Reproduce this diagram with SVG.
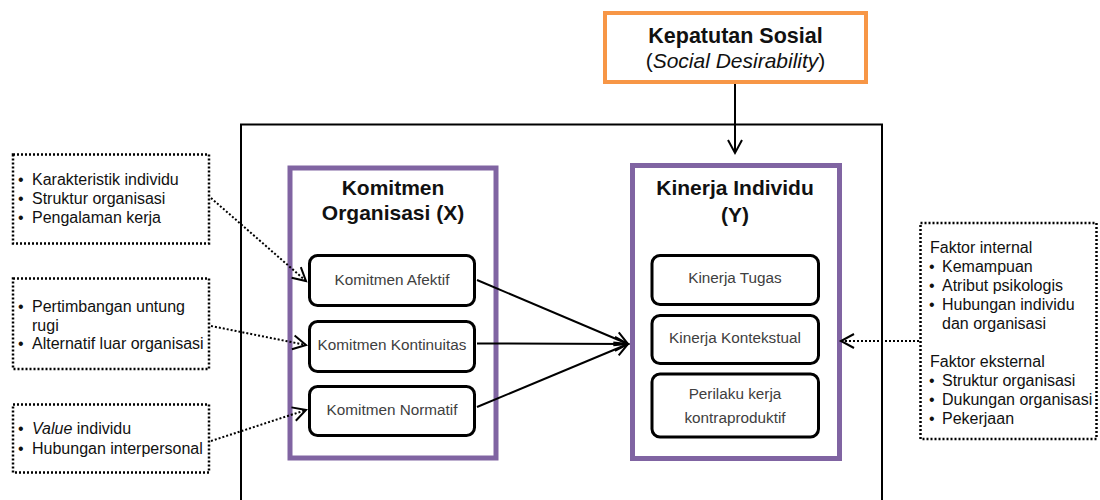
<svg xmlns="http://www.w3.org/2000/svg" width="1100" height="500" viewBox="0 0 1100 500">
<style>
.frame{fill:none;stroke:#000;stroke-width:2}
.purple{fill:#fff;stroke:#8064A2;stroke-width:5}
.orange{fill:#fff;stroke:#F79646;stroke-width:4}
.sub{fill:#fff;stroke:#000;stroke-width:3}
.dotbox{fill:#fff;stroke:#000;stroke-width:2.5;stroke-dasharray:2 2}
.title{font-family:"Liberation Sans",Arial,sans-serif;font-weight:bold;font-size:21px;fill:#111;text-anchor:middle}
.subt{font-family:"Liberation Sans",Arial,sans-serif;font-size:15.3px;fill:#404040;text-anchor:middle}
.list{font-family:"Liberation Sans",Arial,sans-serif;font-size:16px;fill:#111}
.solid{fill:none;stroke:#000;stroke-width:2}
.dotted{fill:none;stroke:#000;stroke-width:2;stroke-dasharray:2 2}
</style>
<defs>
<marker id="arr" markerUnits="userSpaceOnUse" markerWidth="20" markerHeight="20" refX="0" refY="0" viewBox="-14 -10 16 20" orient="auto">
<path d="M-13,-7 L0,0 L-13,7" fill="none" stroke="#000" stroke-width="2"/>
</marker>
</defs>
<rect class="frame" x="241" y="124.5" width="641" height="400"/>
<g id="kepatutan">
<rect class="orange" x="605" y="13" width="261" height="69"/>
<text class="title" x="735.5" y="43" style="font-size:21.5px">Kepatutan Sosial</text>
<text class="list" x="735.5" y="68" style="font-size:21px;text-anchor:middle">(<tspan font-style="italic">Social Desirability</tspan>)</text>
</g>
<g id="komitmen">
<rect class="purple" x="290" y="168" width="206" height="290"/>
<text class="title" x="393" y="195">Komitmen</text>
<text class="title" x="393" y="220">Organisasi (X)</text>
</g>
<g id="afektif">
<rect class="sub" x="309.5" y="255.5" width="165" height="50" rx="8"/>
<text class="subt" x="392" y="285">Komitmen Afektif</text>
</g>
<g id="kontinuitas">
<rect class="sub" x="309.5" y="321.5" width="165" height="50" rx="8"/>
<text class="subt" x="392" y="350">Komitmen Kontinuitas</text>
</g>
<g id="normatif">
<rect class="sub" x="309.5" y="386.5" width="165" height="49" rx="8"/>
<text class="subt" x="392" y="415">Komitmen Normatif</text>
</g>
<g id="kinerja">
<rect class="purple" x="632.5" y="165.5" width="207" height="293"/>
<text class="title" x="735" y="195">Kinerja Individu</text>
<text class="title" x="735" y="222">(Y)</text>
</g>
<g id="tugas">
<rect class="sub" x="652" y="255.5" width="166.5" height="49" rx="8"/>
<text class="subt" x="735" y="283">Kinerja Tugas</text>
</g>
<g id="kontekstual">
<rect class="sub" x="652" y="315.5" width="166.5" height="48" rx="8"/>
<text class="subt" x="735" y="343">Kinerja Kontekstual</text>
</g>
<g id="perilaku">
<rect class="sub" x="652" y="374" width="166.5" height="63" rx="8"/>
<text class="subt" x="735" y="399">Perilaku kerja</text>
<text class="subt" x="735" y="423">kontraproduktif</text>
</g>
<g id="faktor1">
<rect class="dotbox" x="13" y="154.5" width="196" height="89"/>
<text class="list"><tspan x="18" y="185">•</tspan><tspan x="32" y="185">Karakteristik individu</tspan><tspan x="18" y="204">•</tspan><tspan x="32" y="204">Struktur organisasi</tspan><tspan x="18" y="223">•</tspan><tspan x="32" y="223">Pengalaman kerja</tspan></text>
</g>
<g id="faktor2">
<rect class="dotbox" x="13" y="278.5" width="196" height="90.5"/>
<text class="list"><tspan x="18" y="312">•</tspan><tspan x="32" y="312">Pertimbangan untung</tspan><tspan x="32" y="331">rugi</tspan><tspan x="18" y="349">•</tspan><tspan x="32" y="349">Alternatif luar organisasi</tspan></text>
</g>
<g id="faktor3">
<rect class="dotbox" x="13" y="404.5" width="196" height="68"/>
<text class="list"><tspan x="18" y="434">•</tspan><tspan x="32" y="434" font-style="italic">Value</tspan><tspan> individu</tspan><tspan x="18" y="454">•</tspan><tspan x="32" y="454">Hubungan interpersonal</tspan></text>
</g>
<g id="faktor4">
<rect class="dotbox" x="920.5" y="223" width="176" height="216"/>
<text class="list"><tspan x="930" y="253">Faktor internal</tspan><tspan x="929" y="272">•</tspan><tspan x="942" y="272">Kemampuan</tspan><tspan x="929" y="291">•</tspan><tspan x="942" y="291">Atribut psikologis</tspan><tspan x="929" y="310">•</tspan><tspan x="942" y="310">Hubungan individu</tspan><tspan x="942" y="329">dan organisasi</tspan><tspan x="930" y="367">Faktor eksternal</tspan><tspan x="929" y="386">•</tspan><tspan x="942" y="386">Struktur organisasi</tspan><tspan x="929" y="405">•</tspan><tspan x="942" y="405">Dukungan organisasi</tspan><tspan x="929" y="424">•</tspan><tspan x="942" y="424">Pekerjaan</tspan></text>
</g>
<g id="connectors">
<line class="solid" x1="735" y1="84" x2="735" y2="153" marker-end="url(#arr)"/>
<line class="solid" x1="477" y1="280" x2="628" y2="344" marker-end="url(#arr)"/>
<line class="solid" x1="477" y1="343.5" x2="628" y2="344" marker-end="url(#arr)"/>
<line class="solid" x1="477" y1="407" x2="628" y2="344" marker-end="url(#arr)"/>
<line class="dotted" x1="211" y1="198" x2="306" y2="281" marker-end="url(#arr)"/>
<line class="dotted" x1="211" y1="326" x2="306" y2="345" marker-end="url(#arr)"/>
<line class="dotted" x1="211" y1="441" x2="306" y2="410" marker-end="url(#arr)"/>
<line class="dotted" x1="919" y1="341" x2="841" y2="341" marker-end="url(#arr)"/>
</g>
</svg>
